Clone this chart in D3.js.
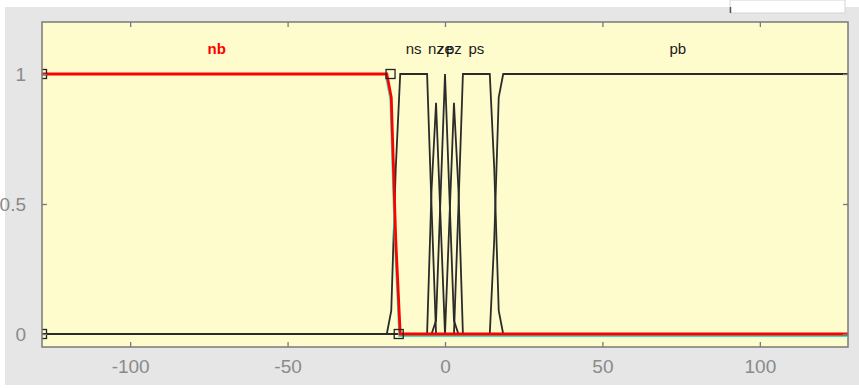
<!DOCTYPE html>
<html>
<head>
<meta charset="utf-8">
<script src="https://cdn.jsdelivr.net/npm/d3@7"></script>
<style>
  html, body { margin: 0; padding: 0; background: #ffffff; }
  svg { display: block; }
  text { font-family: "Liberation Sans", Arial, sans-serif; }
</style>
</head>
<body>
<svg id="chart" width="859" height="389"></svg>
<script>
// Input variable universe and its membership functions
const universe = [-128, 128];
const sampleCount = 181;
const mfNames  = ["nb", "ns", "nz", "ze", "pz", "ps", "pb"];
const mfTypes  = ["trapmf", "trapmf", "trimf", "trimf", "trimf", "trapmf", "trapmf"];
const nbParams = [-128, -128, -17.3, -14.7];
const nsParams = [-17.3, -14.7, -5.6, -3];
const nzParams = [-5.6, -3.2, 0];
const zeParams = [-3, 0, 3];
const pzParams = [0, 3.2, 5.6];
const psParams = [3, 5.6, 14.7, 17.3];
const pbParams = [14.7, 17.3, 128, 128];
const mfParams = [nbParams, nsParams, nzParams, zeParams, pzParams, psParams, pbParams];
const selectedMf = 0;
const labelLevel = 1.1;

// Axis ticks
const xTicks = [-100, -50, 0, 50, 100];
const xTickLabels = ["-100", "-50", "0", "50", "100"];
const yTicks = [0, 0.5, 1];
const yTickLabels = ["0", "0.5", "1"];
const yLimits = [-0.05, 1.2];

function trapmf(x, p) {
  const [a, b, c, d] = p;
  const left = b === a ? (x >= b ? 1 : 0) : (x - a) / (b - a);
  const right = d === c ? (x <= c ? 1 : 0) : (d - x) / (d - c);
  return Math.max(Math.min(left, 1, right), 0);
}
function trimf(x, p) {
  const [a, b, c] = p;
  const left = b === a ? (x >= b ? 1 : 0) : (x - a) / (b - a);
  const right = c === b ? (x <= b ? 1 : 0) : (c - x) / (c - b);
  return Math.max(Math.min(left, right), 0);
}
const evalMf = (type, x, p) => type === "trimf" ? trimf(x, p) : trapmf(x, p);

const xs = d3.range(sampleCount).map(i => universe[0] + i * (universe[1] - universe[0]) / (sampleCount - 1));
const curves = mfParams.map((p, i) => xs.map(x => [x, evalMf(mfTypes[i], x, p)]));

const svg = d3.select("#chart");
const W = 859;
const plot = { left: 42, right: 848, top: 22, bottom: 347 };

// window panel
svg.append("rect").attr("x", 5).attr("y", 7).attr("width", W - 5).attr("height", 378).attr("fill", "#e6e6e6");
svg.append("rect").attr("x", 730).attr("y", 0).attr("width", 115).attr("height", 13)
  .attr("fill", "#ffffff").attr("stroke", "#d4d4d4");
svg.append("line").attr("x1", 730.5).attr("x2", 730.5).attr("y1", 7).attr("y2", 13)
  .attr("stroke", "#555").attr("stroke-width", 1.5);

const x = d3.scaleLinear().domain(universe).range([plot.left, plot.right]);
const y = d3.scaleLinear().domain(yLimits).range([plot.bottom, plot.top]);

svg.append("rect")
  .attr("x", plot.left).attr("y", plot.top)
  .attr("width", plot.right - plot.left).attr("height", plot.bottom - plot.top)
  .attr("fill", "#fefccd");

svg.append("defs").append("clipPath").attr("id", "plotClip")
  .append("rect").attr("x", plot.left).attr("y", plot.top)
  .attr("width", plot.right - plot.left).attr("height", plot.bottom - plot.top);

const g = svg.append("g").attr("clip-path", "url(#plotClip)");
const line = d3.line().x(d => x(d[0])).y(d => y(d[1]));

// unselected membership functions
curves.forEach((c, i) => {
  if (i === selectedMf) return;
  g.append("path").attr("d", line(c)).attr("fill", "none")
    .attr("stroke", "#2b2b2b").attr("stroke-width", 1.8).attr("stroke-linejoin", "miter");
});

// selected membership function, with its highlight trace where it overlaps others
const sel = curves[selectedMf];
const firstFall = sel.findIndex(d => d[1] < 1) - 1;
g.append("path").attr("d", line(sel.slice(Math.max(firstFall, 0))))
  .attr("fill", "none").attr("stroke", "#3fe0c0").attr("stroke-width", 1.8)
  .attr("transform", "translate(-1,2)");
g.append("path").attr("d", line(sel)).attr("fill", "none")
  .attr("stroke", "#ff0000").attr("stroke-width", 2.8);

// vertex handles of the selected function
const sp = mfParams[selectedMf];
const handles = [[sp[0], 0], [sp[1], 1], [sp[2], 1], [sp[3], 0]];
g.selectAll("rect.handle").data(handles).enter().append("rect")
  .attr("class", "handle")
  .attr("x", d => x(d[0]) - 4.5).attr("y", d => y(d[1]) - 4.5)
  .attr("width", 9).attr("height", 9)
  .attr("fill", "none").attr("stroke", "#222").attr("stroke-width", 1.3);

// membership function labels, centred over each function's peak
curves.forEach((c, i) => {
  const ymax = d3.max(c, d => d[1]);
  const idx = c.map((d, k) => d[1] === ymax ? k : -1).filter(k => k >= 0);
  const ci = Math.round(d3.mean(idx));
  svg.append("text")
    .attr("x", x(c[ci][0])).attr("y", y(labelLevel))
    .attr("text-anchor", "middle").attr("dominant-baseline", "central")
    .attr("font-size", 15)
    .attr("font-weight", i === selectedMf ? "bold" : "normal")
    .attr("fill", i === selectedMf ? "#ff0000" : "#1a1a1a")
    .text(mfNames[i]);
});

// axes box
const axisColor = "#7a7a7a";
svg.append("rect")
  .attr("x", plot.left).attr("y", plot.top)
  .attr("width", plot.right - plot.left).attr("height", plot.bottom - plot.top)
  .attr("fill", "none").attr("stroke", axisColor).attr("stroke-width", 1.5);

const tickLen = 5;
const bottomAxis = d3.axisBottom(x).tickValues(xTicks).tickSizeInner(-tickLen).tickSizeOuter(0)
  .tickPadding(13).tickFormat((d, i) => xTickLabels[i]);
const gb = svg.append("g").attr("transform", `translate(0,${plot.bottom})`).call(bottomAxis);
const topAxis = d3.axisTop(x).tickValues(xTicks).tickSizeInner(-tickLen).tickSizeOuter(0).tickFormat("");
const gt = svg.append("g").attr("transform", `translate(0,${plot.top})`).call(topAxis);
const leftAxis = d3.axisLeft(y).tickValues(yTicks).tickSizeInner(-tickLen).tickSizeOuter(0)
  .tickPadding(16).tickFormat((d, i) => yTickLabels[i]);
const gl = svg.append("g").attr("transform", `translate(${plot.left},0)`).call(leftAxis);
const rightAxis = d3.axisRight(y).tickValues(yTicks).tickSizeInner(-tickLen).tickSizeOuter(0).tickFormat("");
const gr = svg.append("g").attr("transform", `translate(${plot.right},0)`).call(rightAxis);

[gb, gt, gl, gr].forEach(a => {
  a.select(".domain").remove();
  a.selectAll(".tick line").attr("stroke", axisColor).attr("stroke-width", 1.3);
  a.selectAll(".tick text").attr("fill", "#8a8a8a").attr("font-size", 19)
    .attr("font-family", "'Liberation Sans', Arial, sans-serif");
});
gb.selectAll(".tick text").attr("dy", "0.71em");
</script>
</body>
</html>
